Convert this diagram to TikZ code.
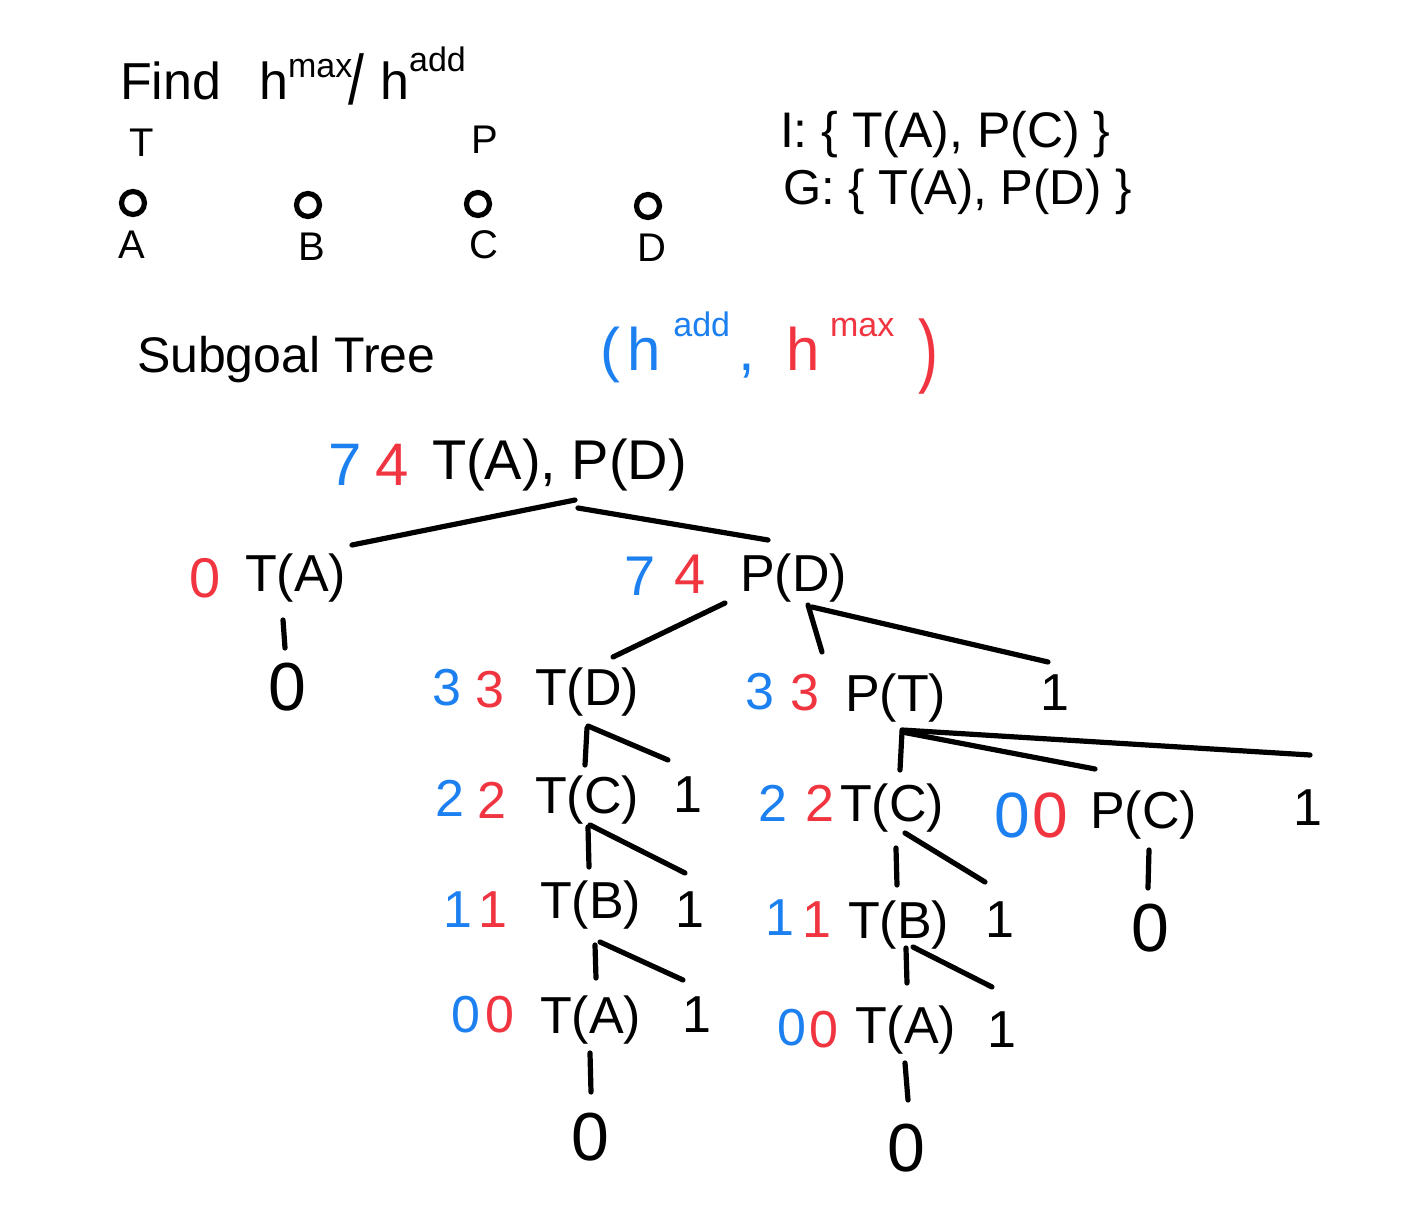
\documentclass[tikz,border=0pt]{standalone}
\usepackage{fontspec}
\setmainfont{Liberation Sans}
\definecolor{hblue}{RGB}{28,128,240}
\definecolor{hred}{RGB}{240,52,64}
\newcommand\hsupx[2][10pt]{\raisebox{#1}{\fontsize{17}{17}\selectfont #2}}
\tikzset{
 every node/.style={inner sep=0pt, outer sep=0pt},
 fs/.style={font=\fontsize{#1}{#1}\selectfont},
 lbl/.style={anchor=west, fs=26},
 hb/.style={text=hblue, fs=#1},
 hb/.default=26,
 hr/.style={text=hred, fs=#1},
 hr/.default=26,
 one/.style={fs=26},
 leaf/.style={fs=34},
 conn/.style={line width=2.6pt, line cap=round, line join=round},
 loc/.style={draw, line width=2.6pt, circle, minimum size=11.5pt},
}
\begin{document}
\begin{tikzpicture}[x=0.5pt,y=-0.5pt]
\fill[white] (0,0) rectangle (1421,1220);
\useasboundingbox (0,0) rectangle (1421,1220);
% ---------- header ----------
\node[fs=26, anchor=base west] (find) at (120,100) {Find\hspace{19pt}h\hsupx[11pt]{max}\hspace{-2pt}\raisebox{-2pt}{\scalebox{1.1}[1.35]{/}}\hspace{8pt}h\hsupx[14pt]{add}};
\node[fs=20] (trk) at (142,143) {T};
\node[fs=20] (pkg) at (485,140) {P};
\node[loc] (la) at (133,203) {};
\node[loc] (lb) at (308,205) {};
\node[loc] (lc) at (478,204) {};
\node[loc] (ld) at (648,206) {};
\node[fs=20] (na) at (132,245) {A};
\node[fs=20] (nb) at (312,247) {B};
\node[fs=20] (nc) at (484,245) {C};
\node[fs=20] (nd) at (652,248) {D};
\node[fs=25, anchor=west] (init) at (780,135) {I: \{ T(A), P(C) \}};
\node[fs=24.5, anchor=west] (goal) at (783,192) {G: \{ T(A), P(D) \}};
\node[fs=25, anchor=base west] (sub) at (137,372) {Subgoal Tree};
\node[fs=30, anchor=base west] (legend) at (600,370) {\textcolor{hblue}{(\hspace{4pt}h\hspace{6pt}\hsupx[17pt]{add}\hspace{4pt},}\hspace{16pt}\textcolor{hred}{h\hspace{5pt}\hsupx[17pt]{max}\hspace{12pt}\raisebox{-4pt}{\scalebox{1}[1.35]{)}}}};
% ---------- tree ----------
\node[hb=30] (r7) at (345,465) {7};
\node[hr=30] (r4) at (392,465) {4};
\node[lbl, fs=28] (root) at (432,465) {T(A), P(D)};
\node[hr=28] (a0) at (205,578) {0};
\node[lbl] (ta1) at (245,578) {T(A)};
\node[leaf] (ta1z) at (287,687) {0};
\node[hb=28] (pd7) at (640,576) {7};
\node[hr=28] (pd4) at (690,574) {4};
\node[lbl] (pd) at (740,578) {P(D)};
\node[hb] (td3b) at (447,688) {3};
\node[hr] (td3r) at (490,690) {3};
\node[lbl] (td) at (535,692) {T(D)};
\node[hb] (pt3b) at (760,692) {3};
\node[hr] (pt3r) at (805,693) {3};
\node[lbl] (pt) at (845,698) {P(T)};
\node[one] (o1) at (1055,693) {1};
\node[hb] (tcl2b) at (450,798) {2};
\node[hr] (tcl2r) at (492,800) {2};
\node[lbl] (tcl) at (535,800) {T(C)};
\node[one] (o2) at (688,795) {1};
\node[hb] (tcr2b) at (773,803) {2};
\node[hr] (tcr2r) at (820,803) {2};
\node[lbl] (tcr) at (840,808) {T(C)};
\node[hb=32] (pc0b) at (1012,815) {0};
\node[hr=32] (pc0r) at (1050,815) {0};
\node[lbl] (pc) at (1090,815) {P(C)};
\node[one] (o3) at (1308,808) {1};
\node[leaf] (pcz) at (1150,928) {0};
\node[hb] (tbl1b) at (458,910) {1};
\node[hr] (tbl1r) at (493,910) {1};
\node[lbl] (tbl) at (540,905) {T(B)};
\node[one] (o4) at (690,910) {1};
\node[hb] (tbr1b) at (780,918) {1};
\node[hr] (tbr1r) at (817,920) {1};
\node[lbl] (tbr) at (848,925) {T(B)};
\node[one] (o5) at (1000,920) {1};
\node[hb] (tal0b) at (466,1015) {0};
\node[hr] (tal0r) at (500,1015) {0};
\node[lbl] (tal) at (540,1020) {T(A)};
\node[one] (o6) at (697,1015) {1};
\node[hb] (tar0b) at (792,1028) {0};
\node[hr] (tar0r) at (824,1030) {0};
\node[lbl] (tar) at (855,1030) {T(A)};
\node[one] (o7) at (1002,1030) {1};
\node[leaf] (talz) at (590,1137) {0};
\node[leaf] (tarz) at (906,1148) {0};
% ---------- connector end points ----------
\coordinate (rA) at (575,500); \coordinate (rB) at (578,508);
\coordinate (ta1t) at (352,545); \coordinate (pdt) at (768,540);
\coordinate (ta1s) at (283,620); \coordinate (ta1e) at (285,648);
\coordinate (pdA) at (725,603); \coordinate (pdB) at (808,605); \coordinate (pdC) at (812,607);
\coordinate (tdt) at (613,657); \coordinate (ptt) at (822,652); \coordinate (o1t) at (1048,662);
\coordinate (tdA) at (587,728); \coordinate (tdB) at (588,726);
\coordinate (tclt) at (585,765); \coordinate (o2t) at (668,760);
\coordinate (ptA) at (902,732); \coordinate (ptB) at (902,730);
\coordinate (tcrt) at (900,770); \coordinate (pct) at (1095,769); \coordinate (o3t) at (1310,755);
\coordinate (tclA) at (588,827); \coordinate (tclB) at (590,825);
\coordinate (tblt) at (589,867); \coordinate (o4t) at (685,873);
\coordinate (tcrA) at (896,848); \coordinate (tcrB) at (905,833);
\coordinate (tbrt) at (897,885); \coordinate (o5t) at (985,882);
\coordinate (pcA) at (1149,850); \coordinate (pczt) at (1148,888);
\coordinate (tblA) at (595,945); \coordinate (tblB) at (600,942);
\coordinate (talt) at (596,978); \coordinate (o6t) at (683,980);
\coordinate (tbrA) at (906,948); \coordinate (tbrB) at (913,947);
\coordinate (tart) at (907,983); \coordinate (o7t) at (992,987);
\coordinate (talA) at (590,1053); \coordinate (talzt) at (591,1092);
\coordinate (tarA) at (905,1063); \coordinate (tarzt) at (908,1100);
% ---------- connectors ----------
\draw[conn] (rA) -- (ta1t);
\draw[conn] (rB) -- (pdt);
\draw[conn] (ta1s) -- (ta1e);
\draw[conn] (pdA) -- (tdt);
\draw[conn] (pdB) -- (ptt);
\draw[conn] (pdC) -- (o1t);
\draw[conn] (tdA) -- (tclt);
\draw[conn] (tdB) -- (o2t);
\draw[conn] (ptA) -- (tcrt);
\draw[conn] (ptA) -- (pct);
\draw[conn] (ptB) -- (o3t);
\draw[conn] (tclA) -- (tblt);
\draw[conn] (tclB) -- (o4t);
\draw[conn] (tcrA) -- (tbrt);
\draw[conn] (tcrB) -- (o5t);
\draw[conn] (pcA) -- (pczt);
\draw[conn] (tblA) -- (talt);
\draw[conn] (tblB) -- (o6t);
\draw[conn] (tbrA) -- (tart);
\draw[conn] (tbrB) -- (o7t);
\draw[conn] (talA) -- (talzt);
\draw[conn] (tarA) -- (tarzt);
\end{tikzpicture}
\end{document}
